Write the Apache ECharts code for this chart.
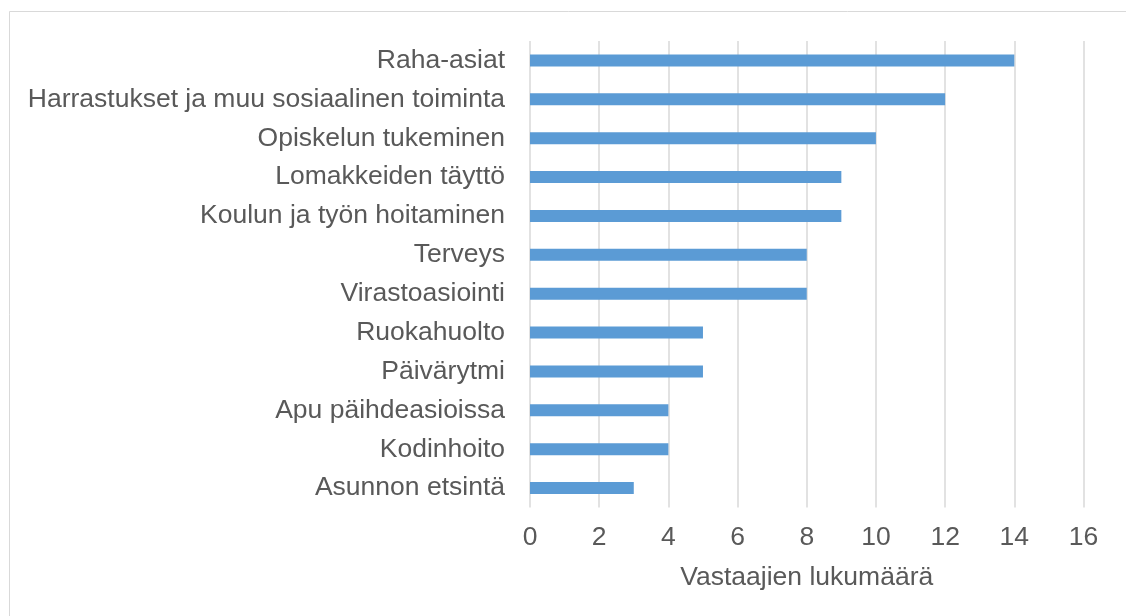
<!DOCTYPE html>
<html>
<head>
<meta charset="utf-8">
<script src="https://cdn.jsdelivr.net/npm/echarts@6/dist/echarts.min.js"></script>
<style>
html,body{margin:0;padding:0;background:#fff;}
#chart{width:1126px;height:616px;}
</style>
</head>
<body>
<div id="chart"></div>
<script>
const categories = [
  "Raha-asiat",
  "Harrastukset ja muu sosiaalinen toiminta",
  "Opiskelun tukeminen",
  "Lomakkeiden täyttö",
  "Koulun ja työn hoitaminen",
  "Terveys",
  "Virastoasiointi",
  "Ruokahuolto",
  "Päivärytmi",
  "Apu päihdeasioissa",
  "Kodinhoito",
  "Asunnon etsintä"
];
const values = [14, 12, 10, 9, 9, 8, 8, 5, 5, 4, 4, 3];
const axisTitle = "Vastaajien lukumäärä";

const chart = echarts.init(document.getElementById('chart'), null, {renderer: 'canvas'});
const font = "'Liberation Sans', Arial, sans-serif";
chart.setOption({
  animation: false,
  backgroundColor: '#ffffff',
  graphic: [{
    type: 'rect',
    shape: {x: 9.5, y: 11.5, width: 1200, height: 700},
    style: {fill: 'none', stroke: '#D9D9D9', lineWidth: 1},
    silent: true
  }],
  grid: {left: 530, right: 42.5, top: 41, bottom: 108.5, containLabel: false},
  xAxis: {
    type: 'value',
    min: 0, max: 16, interval: 2,
    name: axisTitle,
    nameLocation: 'middle',
    nameGap: 57,
    nameTextStyle: {color: '#595959', fontSize: 26.5, fontFamily: font},
    axisLine: {show: false},
    axisTick: {show: false},
    axisLabel: {color: '#595959', fontSize: 26.5, fontFamily: font, margin: 17},
    splitLine: {show: true, lineStyle: {color: '#D9D9D9', width: 1.5}}
  },
  yAxis: {
    type: 'category',
    inverse: true,
    data: categories,
    axisLine: {show: false},
    axisTick: {show: false},
    axisLabel: {color: '#595959', fontSize: 26.5, fontFamily: font, margin: 25}
  },
  series: [{
    type: 'bar',
    data: values,
    barWidth: 12,
    itemStyle: {color: '#5B9BD5'}
  }]
});
</script>
</body>
</html>
